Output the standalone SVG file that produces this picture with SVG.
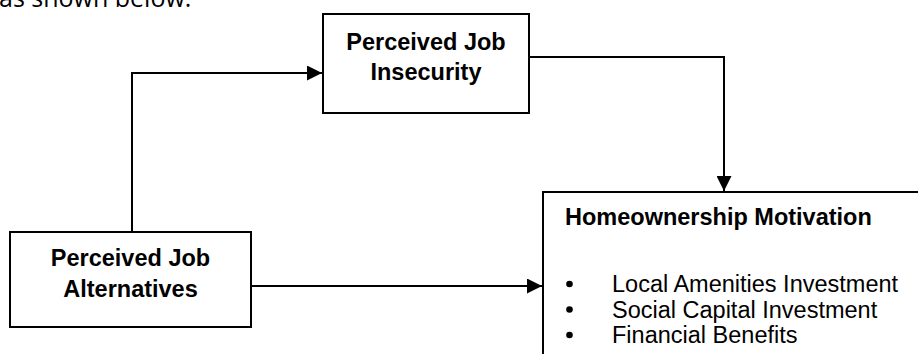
<svg xmlns="http://www.w3.org/2000/svg" width="918" height="354" viewBox="0 0 918 354">
<style>
.box{fill:#fff;stroke:#000;stroke-width:2}
.con{fill:none;stroke:#000;stroke-width:2}
.t{font-family:"Liberation Sans",Arial,sans-serif;font-size:23.5px;fill:#000}
.b{font-weight:bold}
.c{text-anchor:middle}
.intro{font-family:"Open Sans","Liberation Sans",sans-serif;font-size:25px;fill:#000}
</style>
<defs>
<marker id="ah" viewBox="0 0 15 15" refX="15" refY="7.5" markerWidth="15" markerHeight="15" markerUnits="userSpaceOnUse" orient="auto">
<path d="M0,0 L15,7.5 L0,15 Z" fill="#000"/>
</marker>
</defs>
<rect width="918" height="354" fill="#fff"/>
<text class="intro" x="-1" y="7">as shown below:</text>
<g id="connectors">
<path class="con" d="M132,232 V73 H322" marker-end="url(#ah)"/>
<path class="con" d="M530,57 H724 V191" marker-end="url(#ah)"/>
<path class="con" d="M251,286 H542" marker-end="url(#ah)"/>
</g>
<g id="insecurity">
<rect class="box" x="323" y="14" width="206" height="99"/>
<text class="t b c" x="426" y="49.5">Perceived Job</text>
<text class="t b c" x="426" y="80">Insecurity</text>
</g>
<g id="alternatives">
<rect class="box" x="10" y="232" width="241" height="95"/>
<text class="t b c" x="130.5" y="266">Perceived Job</text>
<text class="t b c" x="130.5" y="297">Alternatives</text>
</g>
<g id="motivation">
<rect class="box" x="543" y="192" width="420" height="200"/>
<text class="t b" x="565" y="225">Homeownership Motivation</text>
<circle cx="569.5" cy="284" r="3.3"/>
<circle cx="569.5" cy="309.5" r="3.3"/>
<circle cx="569.5" cy="335" r="3.3"/>
<text class="t" x="612" y="292">Local Amenities Investment</text>
<text class="t" x="612" y="317.5">Social Capital Investment</text>
<text class="t" x="612" y="343">Financial Benefits</text>
</g>
</svg>
